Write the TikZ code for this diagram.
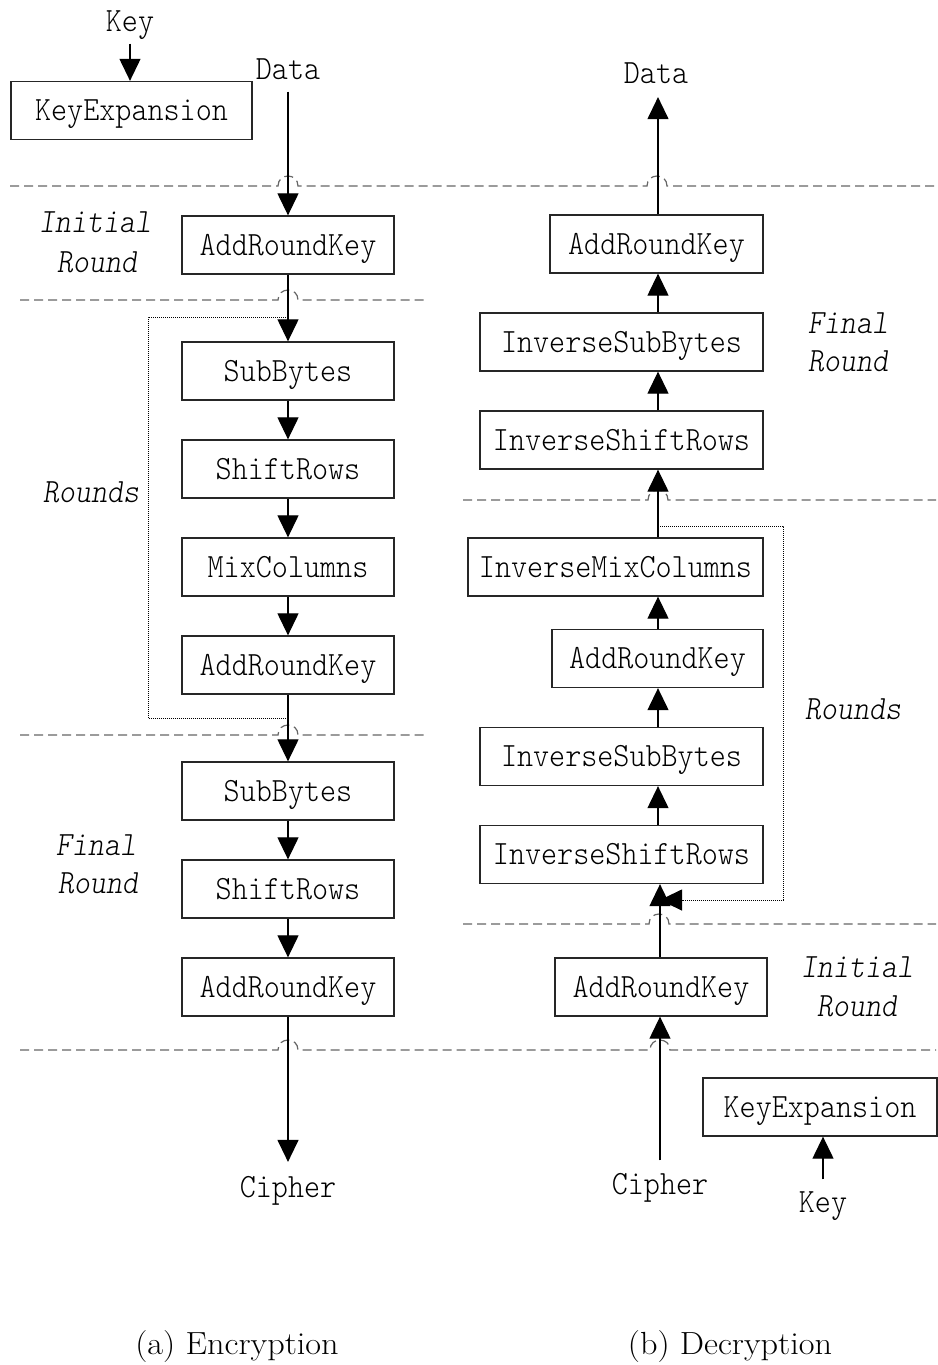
\documentclass[tikz,border=0pt]{standalone}
\usepackage{graphicx}
\usetikzlibrary{arrows.meta}
% monospaced labels, slightly condensed
\newcommand\mtxt[1]{\scalebox{0.9}[1]{#1}}

\begin{document}
\begin{tikzpicture}[x=1pt,y=-1pt,
  every node/.style={inner sep=0pt, text height=20.8pt, text depth=0pt,
    font=\ttfamily\fontseries{l}\fontsize{34}{38}\selectfont},
  blk/.style={draw=black!85, line width=1.3pt, minimum height=58pt, minimum width=#1},
  phase/.style={font=\ttfamily\fontseries{l}\slshape\fontsize{34}{38}\selectfont},
  captxt/.style={font=\rmfamily\fontsize{32}{36}\selectfont},
  flow/.style={line width=1.2pt, -{Triangle[length=22pt,width=21pt]}},
  sep/.style={draw=black!60, line width=1.2pt, dash pattern=on 9pt off 5pt},
  loopline/.style={line width=0.9pt, black, dash pattern=on 1pt off 1pt},
]
\fill[white] (0,0) rectangle (936,1365);

% ---------------- (a) Encryption ----------------
\node (keyL)  at (130,21)  {\mtxt{Key}};
\node[blk=241pt] (kexpL) at (131.5,110.5) {\mtxt{KeyExpansion}};
\node (dataL) at (288,69)  {\mtxt{Data}};

\node[blk=212pt] (ark1) at (288,245) {\mtxt{AddRoundKey}};
\node[blk=212pt] (sb1)  at (288,371) {\mtxt{SubBytes}};
\node[blk=212pt] (sr1)  at (288,469) {\mtxt{ShiftRows}};
\node[blk=212pt] (mc)   at (288,567) {\mtxt{MixColumns}};
\node[blk=212pt] (ark2) at (288,665) {\mtxt{AddRoundKey}};
\node[blk=212pt] (sb2)  at (288,791) {\mtxt{SubBytes}};
\node[blk=212pt] (sr2)  at (288,889) {\mtxt{ShiftRows}};
\node[blk=212pt] (ark3) at (288,987) {\mtxt{AddRoundKey}};
\node (ciphL) at (288,1187) {\mtxt{Cipher}};

\node[phase] (pInitL)  at (95,222)  {\mtxt{Initial}};
\node[phase] (pInitL2) at (97,262)  {\mtxt{Round}};
\node[phase] (pRndL)   at (91,492)  {\mtxt{Rounds}};
\node[phase] (pFinL)   at (96,845)  {\mtxt{Final}};
\node[phase] (pFinL2)  at (98,883)  {\mtxt{Round}};

\node[captxt] (capA) at (237,1344) {\scalebox{1.07}[1]{(a) Encryption}};

% ---------------- (b) Decryption ----------------
\node (dataR) at (656,73) {\mtxt{Data}};
\node[blk=213pt] (rark1) at (656.5,244)   {\mtxt{AddRoundKey}};
\node[blk=283pt] (risb1) at (621.5,342)   {\mtxt{InverseSubBytes}};
\node[blk=283pt] (risr1) at (621.5,440)   {\mtxt{InverseShiftRows}};
\node[blk=295pt] (rimc)  at (615.5,567)   {\mtxt{InverseMixColumns}};
\node[blk=211pt] (rark2) at (657.5,658.5) {\mtxt{AddRoundKey}};
\node[blk=283pt] (risb2) at (621.5,756.5) {\mtxt{InverseSubBytes}};
\node[blk=283pt] (risr2) at (621.5,854.5) {\mtxt{InverseShiftRows}};
\node[blk=212pt] (rark3) at (661,987)     {\mtxt{AddRoundKey}};
\node (ciphR) at (660,1184) {\mtxt{Cipher}};
\node[blk=234pt] (kexpR) at (820,1107) {\mtxt{KeyExpansion}};
\node (keyR) at (823,1202) {\mtxt{Key}};

\node[phase] (pFinR)   at (848,323)  {\mtxt{Final}};
\node[phase] (pFinR2)  at (848,361)  {\mtxt{Round}};
\node[phase] (pRndR)   at (853,709)  {\mtxt{Rounds}};
\node[phase] (pInitR)  at (857,967)  {\mtxt{Initial}};
\node[phase] (pInitR2) at (857,1006) {\mtxt{Round}};

\node[captxt] (capB) at (730,1344) {\scalebox{1.07}[1]{(b) Decryption}};

% ---------------- stage separators (with jumps over the data path) ----------------
\draw[sep] (10,186) -- (278,186) .. controls (278,172.7) and (298,172.7) .. (298,186)
  -- (647,186) .. controls (647,172.7) and (667,172.7) .. (667,186) -- (936,186);
\draw[sep] (20,300) -- (278,300) .. controls (278,286.7) and (298,286.7) .. (298,300) -- (425,300);
\draw[sep] (20,735) -- (278,735) .. controls (278,721.7) and (298,721.7) .. (298,735) -- (425,735);
\draw[sep] (463,500) -- (648,500) .. controls (648,486.7) and (668,486.7) .. (668,500) -- (936,500);
\draw[sep] (463,924) -- (649,924) .. controls (649,910.7) and (669,910.7) .. (669,924) -- (936,924);
\draw[sep] (20,1050) -- (278,1050) .. controls (278,1036.7) and (298,1036.7) .. (298,1050)
  -- (650,1050) .. controls (650,1036.7) and (670,1036.7) .. (670,1050) -- (936,1050);

% ---------------- encryption data path ----------------
\draw[flow, shorten <=12pt] (keyL) -- (kexpL.north -| keyL);
\draw[flow, shorten <=12pt] (dataL) -- (ark1);
\draw[flow] (ark1) -- (sb1);
\draw[flow] (sb1) -- (sr1);
\draw[flow] (sr1) -- (mc);
\draw[flow] (mc) -- (ark2);
\draw[flow] (ark2) -- (sb2);
\draw[flow] (sb2) -- (sr2);
\draw[flow] (sr2) -- (ark3);
\draw[flow, shorten >=14.5pt] (ark3) -- (ciphL);

% round loop
\coordinate (ljA) at (288,718);
\coordinate (ljB) at (288,317);
\coordinate (loopL) at (148,0);
\draw[loopline] (ljA) -- (ljA -| loopL) -- (ljB -| loopL) -- (ljB);

% ---------------- decryption data path ----------------
\coordinate (spR) at (658,0);
\coordinate (spR2) at (660,0);
\draw[flow] (rark1.north -| spR) -- ([yshift=-13.5pt]dataR.south -| spR);
\draw[flow] (risb1.north -| spR) -- (rark1.south -| spR);
\draw[flow] (risr1.north -| spR) -- (risb1.south -| spR);
\draw[flow] (rimc.north -| spR) -- (risr1.south -| spR);
\draw[flow] (rark2.north -| spR) -- (rimc.south -| spR);
\draw[flow] (risb2.north -| spR) -- (rark2.south -| spR);
\draw[flow] (risr2.north -| spR) -- (risb2.south -| spR);
\draw[flow] (rark3.north -| spR2) -- (risr2.south -| spR2);
\draw[flow, shorten <=13pt] (ciphR.north -| spR2) -- (rark3.south -| spR2);
\draw[flow, shorten <=12pt] (keyR) -- (kexpR.south -| keyR);

% round loop
\coordinate (rjA) at (658,526);
\coordinate (rjB) at (660,900);
\coordinate (loopR) at (783,0);
\draw[loopline, -{Triangle[length=22pt,width=21pt]}]
  (rjA) -- (rjA -| loopR) -- (rjB -| loopR) -- (rjB);
\end{tikzpicture}
\end{document}
